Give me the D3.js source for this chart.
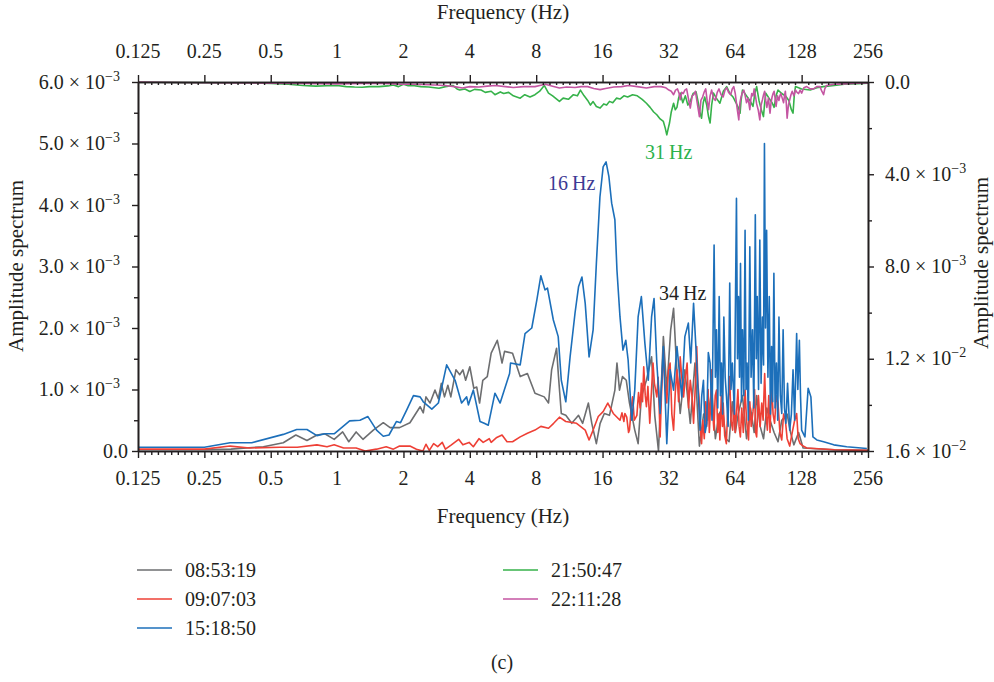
<!DOCTYPE html>
<html>
<head>
<meta charset="utf-8">
<script src="https://cdn.jsdelivr.net/npm/d3@7"></script>
<style>
  body { margin: 0; background: #fff; }
  text { font-family: "Liberation Serif", "Times New Roman", serif; fill: #231f20; }
</style>
</head>
<body>
<svg id="chart" width="994" height="682"></svg>
<script>
(function () {
    // frequency ticks (Hz) and their labels
    var freqTicks = [0.125, 0.25, 0.5, 1, 2, 4, 8, 16, 32, 64, 128, 256]
    var freqLabels = ['0.125', '0.25', '0.5', '1', '2', '4', '8', '16', '32', '64', '128', '256']
    // left axis ticks, x10^-3 ; right axis ticks, x10^-3 (inverted)
    var leftTicks = [0, 1, 2, 3, 4, 5, 6]
    var rightTicks = [0, 4, 8, 12, 16]

    // series: [frequency Hz, amplitude x10^-3]
    var gray0853 = [[0.125,0.02],[0.25,0.02],[0.33,0.03],[0.463,0.07],[0.57,0.135],[0.65,0.26],[0.73,0.17],[0.81,0.26],[0.88,0.28],[0.97,0.19],[1.06,0.31],[1.13,0.15],[1.22,0.31],[1.31,0.19],[1.46,0.34],[1.62,0.46],[1.74,0.38],[1.92,0.38],[2.14,0.46],[2.38,0.72],[2.46,0.62],[2.53,0.88],[2.64,0.78],[2.78,0.99],[2.88,0.85],[2.97,1.1],[3.07,0.88],[3.18,1.07],[3.28,0.88],[3.46,1.32],[3.6,1.24],[3.72,1.32],[3.83,1.15],[4.0,1.37],[4.17,1.02],[4.3,1.04],[4.43,0.78],[4.58,1.15],[4.8,1.21],[5.0,1.59],[5.33,1.8],[5.45,1.64],[5.6,1.43],[5.75,1.62],[6.25,1.59],[6.77,1.21],[7.3,1.26],[7.9,0.94],[8.7,0.88],[9.1,0.78],[9.4,1.32],[9.9,1.67],[10.1,1.21],[10.4,0.61],[10.9,0.58],[11.6,0.45],[12.45,0.58],[13.0,0.45],[13.8,0.78],[14.3,0.45],[15.0,0.12],[15.6,0.45],[16.3,0.61],[17.2,0.58],[18.2,0.99],[18.6,1.43],[19.1,0.99],[19.7,1.21],[20.5,1.15],[21.2,0.78],[22.4,0.34],[23.2,0.12],[24.0,0.88],[25.3,1.15],[26.7,1.53],[27.6,0.58],[28.7,0.0],[30.2,1.86],[31.3,0.99],[32.6,1.97],[33.6,2.32],[34.6,1.43],[36,0.61],[37.8,1.32],[40,0.45],[42,1.43],[44,0.08],[46,0.6],[48,0.5],[50,1.0],[52,0.2],[54,0.6],[56,0.7],[58,0.2],[60,0.15],[62,0.8],[64,0.3],[66,0.6],[69,0.9],[72,0.2],[75,0.7],[78,0.3],[80,0.9],[83,0.4],[86,0.2],[89,0.7],[92,0.5],[96,0.3],[100,0.15],[104,0.5],[110,0.6],[114,0.3],[118,0.1],[124,0.3],[130,0.05],[180,0.02],[256,0.01]]

    var red0907 = [[0.125,0.03],[0.25,0.03],[0.327,0.08],[0.4,0.05],[0.55,0.06],[0.66,0.06],[0.81,0.1],[0.9,0.07],[0.97,0.1],[1.07,0.05],[1.22,0.05],[1.34,0.0],[1.51,0.03],[1.67,0.07],[1.8,0.03],[1.92,0.08],[2.14,0.08],[2.29,0.03],[2.45,0.0],[2.53,0.11],[2.62,0.01],[2.74,0.12],[2.86,0.07],[3.0,0.14],[3.1,0.03],[3.3,0.1],[3.56,0.19],[3.72,0.1],[3.97,0.14],[4.15,0.07],[4.4,0.2],[4.6,0.14],[4.9,0.2],[5.0,0.14],[5.3,0.22],[5.6,0.26],[5.9,0.15],[6.25,0.15],[6.77,0.23],[7.3,0.29],[7.9,0.34],[8.4,0.4],[9.1,0.37],[9.6,0.45],[10.2,0.55],[10.9,0.48],[12.2,0.45],[13.35,0.34],[13.9,0.18],[14.5,0.34],[15.3,0.56],[16.1,0.64],[16.9,0.78],[17.9,0.61],[19.2,0.5],[19.6,0.62],[20.0,0.48],[20.2,0.61],[20.6,0.55],[21.0,0.3],[21.2,0.34],[21.6,0.7],[21.9,0.88],[22.3,0.5],[22.9,0.58],[23.3,0.95],[23.7,0.7],[24.0,1.1],[24.3,0.8],[24.6,1.37],[25.0,0.9],[25.3,0.72],[25.7,1.05],[26.2,0.45],[26.6,0.9],[27.1,1.43],[27.5,1.1],[28.2,0.88],[28.6,1.2],[29.2,0.23],[29.6,0.9],[30.2,1.62],[30.7,1.1],[31.3,0.78],[31.8,1.3],[32.4,1.43],[33.0,0.6],[33.6,0.34],[34.2,0.95],[34.8,1.32],[35.4,0.8],[36,1.53],[36.6,1.2],[37.3,0.88],[38.0,1.2],[38.7,1.43],[39.3,0.7],[40,1.15],[40.7,0.9],[41.4,0.45],[42.1,1.0],[42.8,1.7],[43.3,1.1],[43.8,0.88],[44.4,0.4],[45,0.12],[45.6,0.5],[46.3,0.2],[47.0,0.8],[47.5,0.4],[48.2,1.0],[48.8,0.3],[49.4,0.7],[50,1.32],[50.6,0.6],[51.2,0.34],[51.9,0.9],[52.6,0.99],[53.3,0.3],[54.0,0.6],[54.5,0.18],[55.3,0.9],[56.0,0.4],[56.4,0.78],[57.3,0.25],[58.3,0.12],[59.2,0.7],[60.4,1.21],[61.2,0.5],[62.3,0.34],[63.2,0.9],[64.0,0.3],[64.8,0.61],[65.8,1.0],[66.6,0.4],[67.5,0.23],[68.5,0.7],[69.6,0.3],[70.9,0.99],[72.0,0.5],[73.5,0.18],[74.5,0.8],[75.6,0.4],[77,0.64],[78.3,1.0],[79.2,0.3],[80,0.23],[81.5,0.9],[83.0,0.4],[84.4,0.78],[85.6,0.5],[87,1.26],[88.2,0.6],[89.5,0.34],[90.8,0.9],[92.0,0.3],[93.5,1.1],[95.0,0.6],[96.5,0.45],[98.2,0.9],[100,0.78],[102,0.3],[104,0.18],[106,0.6],[108,0.5],[110,0.2],[113,0.08],[116,0.3],[119,0.5],[121.5,0.61],[123.5,0.2],[126,0.12],[130,0.08],[135,0.05],[180,0.02],[256,0.01]]

    var blue1518 = [[0.125,0.06],[0.25,0.06],[0.327,0.135],[0.41,0.135],[0.57,0.27],[0.656,0.35],[0.73,0.35],[0.81,0.25],[0.88,0.28],[0.97,0.28],[1.14,0.49],[1.27,0.5],[1.38,0.56],[1.51,0.34],[1.62,0.24],[1.72,0.26],[1.86,0.48],[1.94,0.46],[2.07,0.67],[2.22,0.9],[2.38,0.88],[2.46,0.8],[2.69,0.68],[2.88,0.78],[3.14,1.4],[3.43,1.15],[3.67,0.78],[3.87,0.88],[3.94,0.75],[4.15,0.99],[4.45,0.48],[4.65,0.45],[4.85,0.42],[5.2,0.94],[5.49,0.78],[6.06,1.26],[6.12,1.43],[6.77,1.4],[7.12,1.91],[7.64,2.0],[8.06,2.46],[8.4,2.85],[8.77,2.62],[9.0,2.65],[9.57,2.13],[10.07,1.86],[10.4,1.15],[10.9,0.8],[11.4,1.53],[12.0,2.24],[12.45,2.67],[12.9,2.83],[13.35,2.4],[13.9,1.53],[14.5,1.97],[15.0,3.05],[15.57,4.13],[16.1,4.62],[16.6,4.7],[17.1,4.46],[17.6,4.03],[18.2,3.76],[18.6,2.94],[19.2,2.18],[19.8,1.64],[20.4,1.8],[20.9,1.48],[21.7,0.5],[22.4,0.99],[23.2,2.18],[24.0,2.51],[24.9,1.75],[25.8,1.15],[26.7,2.18],[27.4,2.48],[28.2,1.43],[29.2,0.61],[30.2,1.7],[31.3,0.12],[32.4,1.32],[33.6,0.99],[34.8,1.7],[36.6,0.88],[37.8,1.86],[39.2,2.08],[40.2,1.43],[41.4,2.4],[42.8,1.43],[44.3,0.34],[45.1,0.9],[45.9,1.15],[46.7,0.3],[47.5,0.45],[48.3,1.6],[49.2,1.43],[50.2,0.5],[51.3,3.35],[52.0,1.2],[52.6,1.97],[53.3,0.7],[54.1,2.51],[54.8,0.9],[55.4,1.43],[56.1,0.6],[56.8,2.18],[57.6,1.2],[58.4,0.88],[59.4,0.4],[60.4,2.73],[61.2,1.0],[62.1,1.43],[63.4,0.6],[64.8,4.11],[65.5,1.5],[66.2,2.51],[66.9,1.2],[67.6,3.05],[68.3,0.8],[69.0,1.97],[70.0,0.9],[70.9,3.59],[71.6,1.0],[72.4,1.43],[73.4,0.5],[74.5,3.32],[75.5,1.2],[76.6,1.97],[77.7,0.7],[78.9,3.84],[79.7,1.5],[80.5,2.51],[81.6,1.0],[82.7,3.43],[83.8,1.1],[85.0,2.18],[86.0,1.4],[86.8,5.0],[87.8,2.0],[88.8,3.59],[90.0,1.2],[91.3,2.51],[92.4,0.6],[93.5,1.7],[94.6,0.8],[95.8,2.89],[97.0,0.7],[98.4,1.43],[99.7,0.5],[101,2.18],[102.5,0.9],[104,0.61],[105.5,1.97],[107,0.7],[108.6,0.45],[110.5,1.1],[113,0.34],[115,0.6],[117,1.32],[119,0.5],[121.5,1.91],[123,1.0],[125,1.8],[126.5,0.9],[128,0.34],[132.5,0.23],[137,1.02],[141,0.88],[144,0.23],[150,0.18],[161,0.15],[179,0.1],[205,0.07],[253,0.04]]

    // right axis series (x10^-3, drawn downward from top)
    var green2150 = [[0.125,0],[0.2,0.02],[0.3,0.03],[0.4,0.04],[0.5,0.06],[0.6,0.1],[0.7,0.15],[0.8,0.18],[0.9,0.16],[1.0,0.15],[1.1,0.2],[1.2,0.22],[1.3,0.23],[1.4,0.2],[1.55,0.2],[1.7,0.17],[1.8,0.13],[1.9,0.2],[2.0,0.1],[2.1,0.16],[2.2,0.15],[2.4,0.2],[2.6,0.22],[2.9,0.27],[3.1,0.2],[3.35,0.15],[3.5,0.3],[3.6,0.35],[3.8,0.3],[4.0,0.41],[4.2,0.32],[4.5,0.35],[4.7,0.45],[5.0,0.4],[5.2,0.55],[5.5,0.43],[5.7,0.5],[6.0,0.45],[6.3,0.6],[6.77,0.7],[7.1,0.55],[7.5,0.65],[7.9,0.55],[8.3,0.4],[8.7,0.15],[9.1,0.48],[9.5,0.6],[10.2,0.84],[10.6,0.7],[11.2,0.75],[11.8,0.55],[12.3,0.6],[12.7,0.35],[13.2,0.6],[13.7,0.8],[14.1,1.0],[14.5,0.85],[15.0,1.06],[15.6,1.13],[16.2,0.95],[16.7,1.0],[17.2,0.84],[17.8,0.9],[18.5,0.7],[19.2,0.74],[20.0,0.6],[20.8,0.65],[21.9,0.55],[23.0,0.6],[24.2,0.75],[25.3,0.92],[26.3,1.1],[27.3,1.3],[28.2,1.42],[29.2,1.6],[30.2,1.71],[30.8,2.0],[31.3,2.29],[31.8,2.0],[32.2,1.78],[32.8,1.3],[33.6,0.92],[34.2,1.2],[34.8,1.1],[35.4,0.7],[36,0.48],[37,0.9],[38,0.6],[39,1.0],[40,0.84],[41.2,0.5],[42.5,0.43],[43.5,0.9],[44.2,1.3],[45,1.57],[45.8,0.9],[46.5,0.65],[47.5,1.0],[48.4,1.5],[49.2,1.78],[50,1.0],[51,0.48],[52.5,0.7],[54.5,0.92],[56.5,0.4],[58.5,0.2],[60.5,0.5],[62.5,0.65],[64.5,0.9],[66,1.1],[67.3,1.35],[68,0.8],[69,0.35],[72,0.6],[74.5,0.8],[77,1.06],[78.5,0.5],[80,0.2],[82,0.8],[84,1.2],[85.9,1.5],[87,0.9],[88,0.48],[91,0.7],[94,0.9],[96,1.1],[98,0.6],[100,0.35],[104,0.5],[108,0.6],[112,0.8],[115,1.2],[117,1.35],[118.5,0.6],[120,0.2],[128,0.3],[140,0.35],[150,0.25],[160,0.2],[180,0.15],[200,0.1],[230,0.07],[256,0.05]]

    var magenta2211 = [[0.125,0],[0.25,0.03],[0.4,0.04],[0.5,0.05],[0.7,0.06],[1.0,0.08],[1.3,0.06],[1.55,0.05],[1.9,0.09],[2.2,0.1],[2.6,0.12],[3.1,0.15],[3.4,0.2],[3.7,0.26],[4.0,0.2],[4.4,0.22],[4.8,0.18],[5.2,0.15],[5.8,0.2],[6.3,0.24],[7.0,0.2],[7.9,0.2],[8.4,0.14],[8.8,0.1],[9.5,0.18],[10.2,0.26],[11,0.22],[12,0.24],[12.8,0.2],[13.7,0.2],[14.6,0.28],[15.6,0.33],[16.5,0.28],[18,0.22],[19.5,0.2],[21,0.15],[23,0.2],[25.3,0.26],[27.5,0.2],[29.5,0.2],[31,0.25],[32,0.35],[32.8,0.4],[33.6,0.55],[34.3,0.35],[35,0.3],[35.6,0.5],[36,0.77],[36.6,0.45],[37.2,0.5],[37.8,0.35],[38.5,0.3],[39.2,0.7],[40,1.13],[40.8,0.6],[41.5,0.55],[42.2,0.4],[43,0.9],[43.5,1.2],[44,1.5],[44.7,0.8],[45.5,0.65],[46.2,0.45],[47,0.3],[47.7,0.8],[48.4,1.2],[49.2,0.6],[50,0.35],[51,0.7],[52,0.8],[53,0.45],[54,0.3],[55.2,0.55],[56.4,0.65],[57.5,0.35],[58.5,0.25],[59.7,0.45],[61,0.55],[62,0.3],[63,0.2],[64,0.5],[64.8,0.92],[65.6,1.3],[66.4,1.64],[67.2,0.9],[68,0.65],[69,0.45],[70,0.35],[71,0.6],[72,0.9],[73.2,0.7],[74.5,1.2],[75.2,0.8],[76,0.5],[77,0.6],[78,0.3],[79,0.6],[80,0.95],[81.3,1.2],[82.7,1.64],[83.8,1.0],[85,0.77],[86,0.55],[87,0.4],[88,0.8],[89,1.1],[90.5,0.7],[92,1.35],[93,0.9],[94,0.65],[95,0.5],[96,0.4],[97,0.7],[98,1.06],[99.5,0.6],[101,0.8],[102,0.6],[103,0.5],[104.5,0.7],[106,0.9],[107,0.6],[108,0.4],[109,0.9],[110,1.57],[111.5,1.0],[113,0.77],[114.5,0.55],[116,0.4],[118,0.6],[120,0.35],[122,0.45],[124,0.5],[126,0.35],[128,0.48],[131,0.25],[135,0.2],[140,0.3],[145,0.3],[150,0.2],[155,0.2],[158,0.4],[161,0.55],[163,0.3],[166,0.15],[180,0.1],[200,0.08],[230,0.05],[256,0.04]]

    var legendLeft = [['08:53:19', '#6d6e70'], ['09:07:03', '#ee4036'], ['15:18:50', '#1c6fba']]
    var legendRight = [['21:50:47', '#36b24a'], ['22:11:28', '#c455a2']]

    var svg = d3.select('#chart')
    var x = d3.scaleLog().base(2).domain([0.125, 256]).range([138, 868])
    var yL = d3.scaleLinear().domain([0, 6]).range([451, 82])
    var yR = d3.scaleLinear().domain([0, 16]).range([82, 451])
    var ink = '#231f20'

    // minor ticks: 10 steps per octave
    var minorX = []
    for (var i = 0; i < freqTicks.length - 1; i++) {
        for (var k = 1; k < 10; k++) minorX.push(freqTicks[i] * Math.pow(2, k / 10))
    }

    function styleAxis(g) {
        g.selectAll('path').attr('stroke', ink).attr('stroke-width', 1.6)
        g.selectAll('line').attr('stroke', ink).attr('stroke-width', 1.4)
        g.selectAll('text').remove()
    }

    // series lines
    var lineL = d3.line().x(function (d) { return x(d[0]) }).y(function (d) { return yL(d[1]) })
    var lineR = d3.line().x(function (d) { return x(d[0]) }).y(function (d) { return yR(d[1]) })
    var plots = [[gray0853, '#6d6e70', lineL], [red0907, '#ee4036', lineL], [blue1518, '#1c6fba', lineL],
        [green2150, '#36b24a', lineR], [magenta2211, '#c455a2', lineR]]
    plots.forEach(function (p) {
        svg.append('path').datum(p[0]).attr('d', p[2]).attr('fill', 'none')
            .attr('stroke', p[1]).attr('stroke-width', 1.6).attr('stroke-linejoin', 'round')
    })

    // bottom axis
    svg.append('g').attr('transform', 'translate(0,451)')
        .call(d3.axisBottom(x).tickValues(minorX).tickSize(4).tickSizeOuter(0)).call(styleAxis)
    svg.append('g').attr('transform', 'translate(0,451)')
        .call(d3.axisBottom(x).tickValues(freqTicks).tickSize(7).tickSizeOuter(0)).call(styleAxis)
    // top axis (major out, minor in)
    svg.append('g').attr('transform', 'translate(0,82)')
        .call(d3.axisBottom(x).tickValues(minorX).tickSize(3).tickSizeOuter(0)).call(styleAxis)
    svg.append('g').attr('transform', 'translate(0,82)')
        .call(d3.axisTop(x).tickValues(freqTicks).tickSize(7).tickSizeOuter(0)).call(styleAxis)
    // left axis
    svg.append('g').attr('transform', 'translate(138,0)')
        .call(d3.axisLeft(yL).tickValues([0.5, 1.5, 2.5, 3.5, 4.5, 5.5]).tickSize(4).tickSizeOuter(0)).call(styleAxis)
    svg.append('g').attr('transform', 'translate(138,0)')
        .call(d3.axisLeft(yL).tickValues(leftTicks).tickSize(6).tickSizeOuter(0)).call(styleAxis)
    // right axis
    svg.append('g').attr('transform', 'translate(868,0)')
        .call(d3.axisRight(yR).tickValues([2, 6, 10, 14]).tickSize(4).tickSizeOuter(0)).call(styleAxis)
    svg.append('g').attr('transform', 'translate(868,0)')
        .call(d3.axisRight(yR).tickValues(rightTicks).tickSize(6).tickSizeOuter(0)).call(styleAxis)

    // frequency labels
    freqTicks.forEach(function (f, i) {
        svg.append('text').attr('x', x(f)).attr('y', 485).attr('text-anchor', 'middle')
            .attr('font-size', 20).text(freqLabels[i])
        svg.append('text').attr('x', x(f)).attr('y', 58).attr('text-anchor', 'middle')
            .attr('font-size', 20).text(freqLabels[i])
    })

    // scientific label: value given in x10^-3
    function sciLabel(t, v) {
        if (v === 0) { t.append('tspan').text('0.0'); return }
        var val = v * 1e-3
        var e = Math.floor(Math.log10(val) + 1e-9)
        var m = (val / Math.pow(10, e)).toFixed(1)
        t.append('tspan').text(m + ' \u00d7 10')
        t.append('tspan').attr('font-size', 14).attr('dy', -8).text('\u2212' + (-e))
    }
    leftTicks.forEach(function (v) {
        var t = svg.append('text').attr('x', v === 0 ? 128 : 120).attr('y', yL(v) + 6.5)
            .attr('text-anchor', 'end').attr('font-size', 20)
        sciLabel(t, v)
    })
    rightTicks.forEach(function (v) {
        var t = svg.append('text').attr('x', 885).attr('y', yR(v) + 6.5)
            .attr('font-size', 20)
        sciLabel(t, v)
    })

    // axis titles
    svg.append('text').attr('x', 503).attr('y', 19).attr('text-anchor', 'middle').attr('font-size', 21).text('Frequency (Hz)')
    svg.append('text').attr('x', 503).attr('y', 523).attr('text-anchor', 'middle').attr('font-size', 21).text('Frequency (Hz)')
    svg.append('text').attr('transform', 'translate(23,266) rotate(-90)').attr('text-anchor', 'middle')
        .attr('font-size', 21).text('Amplitude spectrum')
    svg.append('text').attr('transform', 'translate(988,263) rotate(-90)').attr('text-anchor', 'middle')
        .attr('font-size', 21).text('Amplitude spectrum')

    // peak annotations
    var notes = [['16\u2009Hz', 548, 190, '#3d3a94'], ['31\u2009Hz', 645, 159, '#2bb24c'], ['34\u2009Hz', 659, 299.5, '#231f20']]
    notes.forEach(function (n) {
        svg.append('text').attr('x', n[1]).attr('y', n[2]).attr('font-size', 20)
            .style('fill', n[3]).text(n[0])
    })

    // legend
    function legendCol(items, lx) {
        items.forEach(function (it, i) {
            var ly = 570 + i * 29
            svg.append('line').attr('x1', lx).attr('x2', lx + 35).attr('y1', ly).attr('y2', ly)
                .attr('stroke', it[1]).attr('stroke-width', 1.4)
            svg.append('text').attr('x', lx + 48).attr('y', ly + 6.5).attr('font-size', 20).text(it[0])
        })
    }
    legendCol(legendLeft, 137)
    legendCol(legendRight, 503)

    svg.append('text').attr('x', 502).attr('y', 669).attr('text-anchor', 'middle').attr('font-size', 20).text('(c)')
}).call(this)
</script>
</body>
</html>
